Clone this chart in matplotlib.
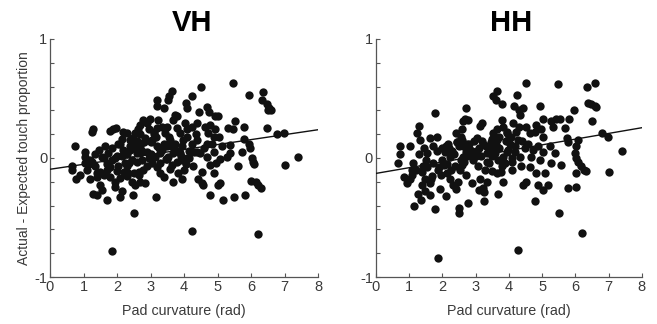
import matplotlib
matplotlib.use("Agg")
import matplotlib.pyplot as plt
import numpy as np

plt.rcParams['font.family'] = ['Liberation Sans', 'DejaVu Sans']

# VH panel points (pad curvature, actual - expected)
vh_x = [1.86, 4.25, 6.2, 2.5, 5.45, 4.5, 3.63, 3.55, 3.52, 3.18, 3.18, 5.93, 6.35, 6.32,
        6.48, 6.55, 6.6, 6.52, 4.23, 4.06, 4.1, 3.4, 4.44, 4.7, 4.75, 4.93, 5.02, 5.53,
        5.32, 5.45, 5.78, 6.48, 6.78, 6.98, 7.4, 7.0, 5.94, 5.96, 6.04, 6.06, 6.08, 6.0,
        6.15, 6.22, 6.3, 5.8, 5.73, 5.6, 5.82, 5.5, 5.17, 4.78, 5.02, 5.07, 4.88, 4.78,
        4.95, 5.08, 4.43, 4.53, 4.57, 4.28, 4.08, 3.68, 3.93, 3.83, 3.58, 3.17, 3.29, 3.39,
        4.48, 4.68, 4.88, 5.13, 5.38, 5.28, 5.38, 4.73, 4.88, 5.03, 4.63, 4.78, 4.93, 4.68,
        4.82, 4.38, 4.23, 4.03, 4.08, 3.78, 3.68, 3.73, 3.88, 3.98, 4.08, 4.23, 4.38, 3.49,
        3.44, 3.59, 3.73, 3.49, 3.68, 3.53, 3.88, 3.93, 3.78, 3.18, 3.09, 3.23, 2.99, 2.89,
        3.04, 3.18, 3.29, 3.14, 3.04, 3.29, 2.79, 2.69, 2.64, 2.54, 2.49, 2.29, 2.19, 1.89,
        1.97, 1.79, 1.29, 1.25, 0.75, 0.65, 0.65, 0.78, 1.05, 1.03, 1.1, 1.18, 1.25, 1.34,
        1.39, 1.27, 1.39, 1.49, 1.54, 1.69, 1.45, 1.54, 1.64, 1.74, 1.84, 1.69, 1.79, 1.94,
        2.09, 2.04, 2.09, 2.14, 2.19, 2.29, 2.39, 2.44, 2.29, 2.34, 2.44, 2.49, 2.54, 2.59,
        2.69, 2.74, 2.79, 2.69, 2.84, 2.89, 2.94, 2.89, 2.04, 2.15, 2.6, 2.75, 1.95, 2.35,
        2.55, 3.35, 3.6, 4.2, 1.6, 2.0, 2.45, 2.65, 3.0, 3.45, 3.85, 4.15, 4.4,
        # extra points filling the dense middle
        1.15, 1.35, 1.5, 1.7, 1.85, 2.1, 2.25, 2.4, 2.55, 2.7, 2.85, 3.1, 3.25, 3.55,
        3.7, 3.95, 4.05, 4.3, 1.4, 1.6, 1.8, 2.0, 2.2, 2.4, 2.6, 2.8, 3.0, 3.2, 3.4,
        3.65, 3.9, 4.15, 4.35, 4.6, 2.3, 2.5, 2.7, 2.95, 3.15, 3.5, 3.8, 4.0, 1.95,
        2.15, 1.05, 0.9, 1.2, 2.65, 3.35, 4.55]
vh_y = [-0.78, -0.61, -0.64, -0.46, 0.63, 0.60, 0.56, 0.52, 0.49, 0.49, 0.44, 0.53, 0.55, 0.49,
        0.45, 0.42, 0.40, 0.40, 0.52, 0.46, 0.42, 0.42, 0.39, 0.43, 0.39, 0.35, 0.35, 0.31,
        0.25, 0.24, 0.26, 0.25, 0.20, 0.21, 0.01, -0.06, 0.12, 0.08, 0.0, -0.03, -0.05, -0.19,
        -0.20, -0.23, -0.25, 0.16, 0.05, -0.07, -0.31, -0.33, -0.35, -0.31, -0.23, -0.21, -0.13, -0.06,
        -0.04, -0.01, -0.18, -0.21, -0.23, -0.07, 0.0, -0.20, -0.18, -0.13, -0.09, -0.33, -0.13, -0.16,
        0.04, 0.01, 0.05, 0.10, 0.11, 0.01, 0.04, 0.21, 0.18, 0.18, 0.26, 0.28, 0.24, 0.12,
        0.12, 0.29, 0.26, 0.29, 0.24, 0.35, 0.32, 0.36, 0.21, 0.15, 0.18, 0.12, 0.15, 0.26,
        0.21, 0.15, 0.12, 0.10, 0.04, 0.01, 0.04, -0.02, -0.03, 0.25, 0.22, 0.32, 0.33, 0.29,
        0.15, 0.10, 0.04, 0.01, -0.04, -0.04, 0.32, 0.28, 0.24, 0.21, 0.17, 0.21, 0.22, 0.24,
        0.25, 0.23, 0.24, 0.22, 0.10, -0.07, -0.10, -0.18, 0.05, 0.01, -0.10, -0.18, -0.03, -0.07,
        -0.13, -0.30, -0.31, -0.23, -0.27, -0.35, 0.07, 0.01, 0.10, 0.04, -0.02, -0.10, -0.16, -0.20,
        -0.17, -0.07, -0.33, -0.28, 0.07, 0.03, 0.10, -0.02, -0.07, -0.13, -0.20, -0.31, -0.23, 0.04,
        0.10, -0.02, -0.10, -0.20, -0.21, 0.05, 0.00, -0.07, 0.12, 0.02, 0.14, 0.06, 0.00, -0.04,
        0.08, 0.07, 0.10, 0.06, -0.14, -0.11, 0.15, -0.12, 0.13, -0.01, 0.06, 0.00, 0.05,
        -0.05, 0.03, -0.12, -0.05, 0.08, 0.12, -0.04, 0.15, 0.10, 0.04, 0.17, 0.20, 0.08, 0.18,
        0.08, 0.10, -0.05, 0.05, -0.16, 0.00, -0.08, 0.02, -0.12, 0.07, -0.03, 0.13, 0.03, -0.08, 0.12,
        -0.06, 0.02, 0.06, 0.20, 0.08, -0.15, -0.13, 0.20, 0.24, 0.18, -0.01, 0.25, -0.10, -0.24,
        0.16, -0.04, -0.14, -0.02, -0.14, 0.26, -0.12]

# HH panel points
hh_x = [1.87, 4.28, 6.2, 5.51, 2.5, 2.5, 1.79, 1.16, 2.77, 3.25, 4.78, 3.68, 3.26, 3.21,
        1.93, 2.11, 1.28, 1.35, 1.48, 1.63, 1.38, 1.48, 1.63, 0.95, 1.03, 1.08, 0.68, 0.73,
        0.73, 1.03, 1.13, 1.3, 1.25, 1.33, 1.31, 1.43, 1.79, 1.63, 1.83, 1.73, 1.53, 1.73,
        1.88, 1.98, 2.08, 2.13, 2.23, 2.33, 2.48, 2.18, 2.23, 2.38, 2.53, 2.63, 2.41, 2.58,
        2.63, 2.68, 2.71, 2.78, 2.73, 2.83, 2.63, 2.58, 2.93, 2.88, 3.03, 3.13, 3.18, 3.23,
        3.33, 3.08, 3.28, 3.13, 3.33, 3.51, 3.6, 3.63, 3.78, 3.53, 3.63, 3.48, 3.58, 3.68,
        3.78, 3.63, 3.48, 3.78, 3.83, 3.93, 4.03, 3.98, 3.83, 3.88, 4.08, 3.83, 4.15, 4.25,
        4.31, 4.43, 4.35, 4.13, 4.23, 4.28, 4.18, 4.33, 4.38, 4.43, 4.53, 4.52, 4.53, 4.63,
        4.58, 4.73, 4.68, 4.95, 5.03, 4.83, 4.78, 4.98, 5.03, 4.88, 5.03, 4.93, 5.08, 4.83,
        4.88, 5.03, 5.18, 5.28, 5.43, 5.53, 5.33, 5.48, 5.23, 5.38, 5.28, 5.58, 5.68, 5.75,
        5.78, 5.81, 5.95, 5.79, 6.01, 6.01, 6.08, 5.99, 6.03, 6.08, 6.01, 6.18, 6.25, 6.31,
        6.35, 6.58, 6.38, 6.48, 6.58, 6.63, 6.5, 6.81, 6.98, 7.39, 7.01, 2.0, 2.3, 2.45,
        2.7, 2.9, 3.1, 3.4, 3.45, 3.7, 3.95, 4.1, 2.15, 2.55, 3.0, 3.35, 3.55, 1.9, 2.75,
        # extra points filling the dense middle
        1.2, 1.4, 1.55, 1.7, 1.85, 2.05, 2.2, 2.35, 2.5, 2.65, 2.8, 2.95, 3.15, 3.3,
        3.5, 3.7, 3.9, 4.05, 4.2, 4.4, 1.5, 1.65, 1.95, 2.1, 2.25, 2.45, 2.6, 2.85, 3.05,
        3.2, 3.4, 3.6, 3.75, 3.95, 4.1, 4.3, 4.5, 4.65, 2.55, 2.7, 3.5, 3.65, 4.0, 1.1,
        0.85, 1.45, 2.4, 3.1]
hh_y = [-0.84, -0.77, -0.63, -0.46, -0.42, -0.46, -0.43, -0.40, -0.38, -0.36, -0.36, -0.30, -0.29, -0.25,
        -0.26, -0.32, -0.30, -0.35, -0.28, -0.31, -0.23, -0.18, -0.21, -0.21, -0.18, -0.14, -0.04, 0.03,
        0.10, 0.10, -0.04, 0.27, 0.21, 0.15, 0.03, -0.07, 0.38, 0.17, 0.18, 0.10, 0.04, -0.04,
        -0.10, -0.02, 0.05, -0.13, -0.18, -0.23, -0.20, 0.12, 0.01, -0.07, -0.10, 0.01, 0.21, 0.24,
        0.31, 0.33, 0.42, 0.32, 0.12, 0.07, 0.10, 0.15, -0.02, -0.21, 0.17, 0.27, 0.29, 0.12,
        0.04, -0.07, -0.10, -0.18, -0.20, 0.52, 0.49, 0.56, 0.45, 0.21, 0.15, 0.10, 0.04, -0.02,
        -0.07, -0.13, -0.11, 0.32, 0.26, 0.21, 0.12, 0.07, 0.01, -0.04, -0.10, -0.20, 0.44, 0.53,
        0.40, 0.42, 0.36, 0.29, 0.22, 0.15, 0.10, 0.01, -0.07, -0.23, -0.20, 0.63, 0.26, 0.21,
        0.12, 0.07, 0.01, 0.44, 0.33, 0.28, 0.22, 0.24, 0.18, 0.10, 0.05, -0.02, -0.13, -0.13,
        -0.23, -0.27, -0.23, 0.31, 0.33, 0.33, 0.26, 0.62, 0.10, 0.04, -0.04, -0.06, 0.25, 0.17,
        0.13, 0.33, 0.40, -0.25, -0.24, 0.10, 0.15, 0.04, 0.00, -0.03, -0.13, -0.07, -0.10, -0.11,
        0.60, 0.63, 0.46, 0.45, 0.44, 0.43, 0.31, 0.21, 0.18, 0.06, -0.12, 0.08, 0.06, 0.13,
        0.05, 0.06, 0.08, 0.06, 0.13, 0.08, 0.05, 0.00, -0.05, -0.02, 0.02, -0.03, 0.09, -0.08, 0.02,
        -0.10, -0.12, -0.08, -0.15, 0.06, -0.06, 0.08, 0.03, 0.10, -0.03, 0.12, 0.14, 0.02, 0.10,
        0.16, 0.18, 0.14, 0.18, 0.05, 0.14, -0.02, -0.18, -0.14, 0.10, -0.10, 0.13, -0.06, 0.03, 0.06,
        0.14, -0.04, 0.11, -0.12, 0.22, -0.03, 0.26, 0.08, -0.08, 0.18, -0.14, 0.02, 0.24, 0.17, -0.10,
        -0.16, 0.08, -0.26, -0.27]

# regression line (intercept, slope)
vh_fit = (-0.095, 0.0415)
hh_fit = (-0.13, 0.048)

titles = ['VH', 'HH']
ylabel = 'Actual - Expected touch proportion'
xlabel = 'Pad curvature (rad)'

fig = plt.figure(figsize=(6.57, 3.24), dpi=100)
ax1 = fig.add_axes([0.0761, 0.145, 0.408, 0.735])
ax2 = fig.add_axes([0.572, 0.145, 0.405, 0.735])

spine_col = '#555555'
text_col = '#3a3a3a'

for ax, xs, ys, fit, title, tx in [(ax1, vh_x, vh_y, vh_fit, titles[0], 0.53),
                                   (ax2, hh_x, hh_y, hh_fit, titles[1], 0.51)]:
    ax.scatter(xs, ys, s=36, color='#111111', linewidths=0, zorder=3)
    xl = np.array([0, 8])
    ax.plot(xl, fit[0] + fit[1] * xl, color='#111111', lw=1.0, zorder=4)
    ax.set_xlim(0, 8)
    ax.set_ylim(-1, 1)
    ax.set_xticks(range(0, 9))
    yt = np.round(np.arange(-1, 1.01, 0.2), 1)
    ax.set_yticks(yt)
    ax.set_yticklabels(['-1' if v == -1 else '0' if v == 0 else '1' if v == 1 else '' for v in yt])
    ax.tick_params(direction='in', length=3, width=0.8, color=spine_col,
                   labelcolor=text_col, labelsize=10.5, pad=2)
    for s in ['top', 'right']:
        ax.spines[s].set_visible(False)
    for s in ['left', 'bottom']:
        ax.spines[s].set_color(spine_col)
        ax.spines[s].set_linewidth(0.9)
    ax.set_xlabel(xlabel, fontsize=10.3, color=text_col, labelpad=7)
    ax.set_title(title, fontsize=21, fontweight='bold', color='black', pad=6, x=tx)

ax1.set_ylabel(ylabel, fontsize=10, color=text_col, labelpad=2)

fig.savefig('out.png', dpi=100)
